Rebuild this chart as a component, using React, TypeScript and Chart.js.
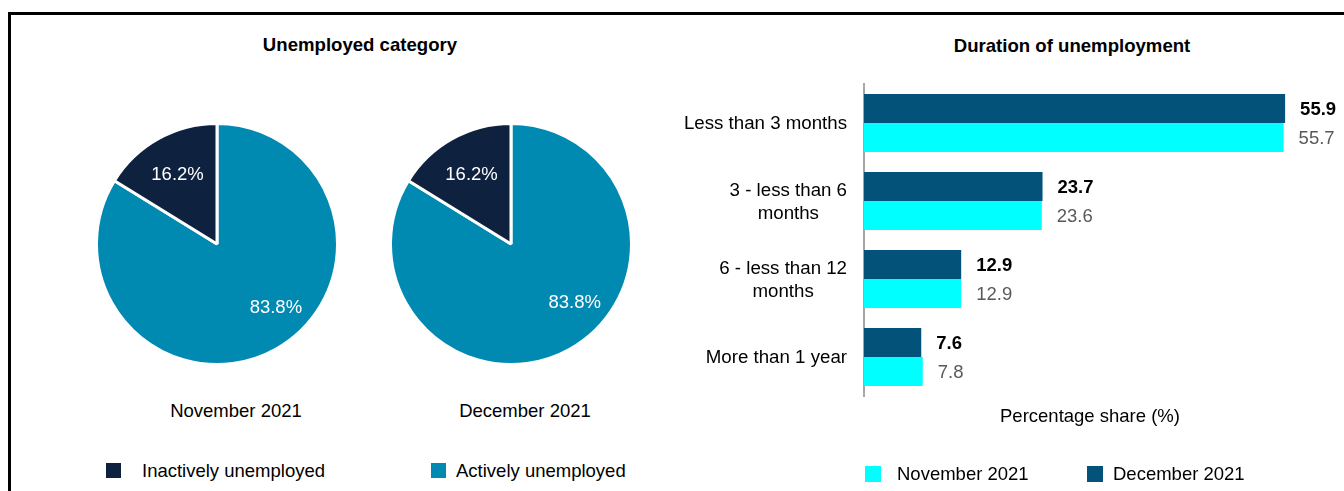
import React, { useEffect, useRef } from "react";
import { Chart, registerables } from "chart.js";

Chart.register(...registerables);

// ---------- Data ----------
const pieCategories = ["Actively unemployed", "Inactively unemployed"];
const novemberShares = [83.8, 16.2];
const decemberShares = [83.8, 16.2];
const pieMonths = ["November 2021", "December 2021"];

const durationCategories = [
  ["Less than 3 months"],
  ["3 - less than 6", "months"],
  ["6 - less than 12", "months"],
  ["More than 1 year"],
];
const decemberDuration = [55.9, 23.7, 12.9, 7.6];
const novemberDuration = [55.7, 23.6, 12.9, 7.8];
const durationSeries = ["December 2021", "November 2021"];

// ---------- Styles ----------
const FONT = "'Liberation Sans', Arial, Helvetica, sans-serif";
const ACTIVE_COLOR = "#0089B1";
const INACTIVE_COLOR = "#0E2240";
const DEC_COLOR = "#02527A";
const NOV_COLOR = "#00FFFF";
const pieColors = [ACTIVE_COLOR, INACTIVE_COLOR];

const pieLabelPlugin = {
  id: "pieLabels",
  afterDatasetsDraw(chart: any, _args: any, opts: any) {
    const meta = chart.getDatasetMeta(0);
    const values = chart.data.datasets[0].data as number[];
    const angleFrac = opts.angleFrac || [0.455, 0.49];
    const radiusFrac = opts.radiusFrac || [0.71, 0.66];
    const ctx = chart.ctx;
    ctx.save();
    ctx.font = `18.5px ${FONT}`;
    ctx.fillStyle = "#ffffff";
    ctx.textAlign = "center";
    ctx.textBaseline = "middle";
    meta.data.forEach((arc: any, i: number) => {
      const p = arc.getProps(["x", "y", "startAngle", "endAngle", "outerRadius"], true);
      const a = p.startAngle + (p.endAngle - p.startAngle) * angleFrac[i];
      const r = p.outerRadius * radiusFrac[i];
      ctx.fillText(values[i].toFixed(1) + "%", p.x + r * Math.cos(a), p.y + r * Math.sin(a));
    });
    ctx.restore();
  },
};

const barValuePlugin = {
  id: "barValues",
  afterDatasetsDraw(chart: any) {
    const ctx = chart.ctx;
    ctx.save();
    ctx.textAlign = "left";
    ctx.textBaseline = "middle";
    chart.data.datasets.forEach((ds: any, di: number) => {
      const meta = chart.getDatasetMeta(di);
      ctx.font = di === 0 ? `bold 18.5px ${FONT}` : `18.5px ${FONT}`;
      ctx.fillStyle = di === 0 ? "#000000" : "#595959";
      meta.data.forEach((bar: any, i: number) => {
        ctx.fillText((ds.data[i] as number).toFixed(1), bar.x + 15, bar.y + 1);
      });
    });
    ctx.restore();
  },
};

const categoryLabelPlugin = {
  id: "categoryLabels",
  afterDraw(chart: any) {
    const ctx = chart.ctx;
    const yScale = chart.scales.y;
    const rightEdge = chart.chartArea.left - 17;
    const lineH = 23;
    ctx.save();
    ctx.font = `18.7px ${FONT}`;
    ctx.fillStyle = "#000000";
    ctx.textAlign = "center";
    ctx.textBaseline = "middle";
    (chart.data.labels as string[][]).forEach((lines, i) => {
      const widest = Math.max(...lines.map((l) => ctx.measureText(l).width));
      const cx = rightEdge - widest / 2;
      const cy = yScale.getPixelForValue(i);
      const y0 = cy - ((lines.length - 1) * lineH) / 2;
      lines.forEach((l, k) => ctx.fillText(l, cx, y0 + k * lineH + 1));
    });
    ctx.restore();
  },
};

function PieChart({
  values,
  left,
  top,
  angleFrac,
}: {
  values: number[];
  left: number;
  top: number;
  angleFrac: number[];
}) {
  const ref = useRef<HTMLCanvasElement>(null);
  useEffect(() => {
    const chart = new Chart(ref.current as HTMLCanvasElement, {
      type: "pie",
      data: {
        labels: pieCategories,
        datasets: [
          {
            data: values,
            backgroundColor: pieColors,
            borderColor: "#ffffff",
            borderWidth: 3,
          },
        ],
      },
      options: {
        responsive: false,
        animation: false,
        layout: { padding: 0 },
        plugins: {
          legend: { display: false },
          tooltip: { enabled: false },
          pieLabels: { angleFrac, radiusFrac: [0.72, 0.66] },
        },
      },
      plugins: [pieLabelPlugin],
    } as any);
    return () => chart.destroy();
  }, []);
  return (
    <canvas
      ref={ref}
      width={244}
      height={244}
      style={{ position: "absolute", left, top, width: 244, height: 244 }}
    />
  );
}

function BarChart() {
  const ref = useRef<HTMLCanvasElement>(null);
  useEffect(() => {
    const chart = new Chart(ref.current as HTMLCanvasElement, {
      type: "bar",
      data: {
        labels: durationCategories,
        datasets: [
          {
            label: durationSeries[0],
            data: decemberDuration,
            backgroundColor: DEC_COLOR,
            categoryPercentage: 0.744,
            barPercentage: 1,
          },
          {
            label: durationSeries[1],
            data: novemberDuration,
            backgroundColor: NOV_COLOR,
            categoryPercentage: 0.744,
            barPercentage: 1,
          },
        ],
      },
      options: {
        indexAxis: "y",
        responsive: false,
        animation: false,
        layout: { padding: { top: 14, right: 28, left: 0, bottom: 0 } },
        plugins: { legend: { display: false }, tooltip: { enabled: false } },
        scales: {
          y: {
            grid: { display: false },
            border: { display: true, color: "#A6A6A6", width: 2 },
            ticks: { display: false },
            afterFit: (s: any) => {
              s.width = 224;
            },
          },
          x: {
            min: 0,
            max: 60,
            grid: { display: false },
            border: { display: false },
            ticks: { display: false },
            title: {
              display: true,
              text: "Percentage share (%)",
              color: "#000000",
              font: { family: FONT, size: 18.5 },
              padding: { top: 0, bottom: 63 },
            },
            afterFit: (s: any) => {
              s.height = 95;
            },
          },
        },
      },
      plugins: [barValuePlugin, categoryLabelPlugin],
    } as any);
    return () => chart.destroy();
  }, []);
  return (
    <canvas
      ref={ref}
      width={704}
      height={421}
      style={{ position: "absolute", left: 640, top: 70, width: 704, height: 421 }}
    />
  );
}

function Label({
  text,
  x,
  capY,
  size = 18.5,
  bold = false,
  align = "center",
}: {
  text: string;
  x: number;
  capY: number;
  size?: number;
  bold?: boolean;
  align?: "center" | "left";
}) {
  return (
    <div
      style={{
        position: "absolute",
        left: x,
        top: capY - 0.49 * size,
        fontFamily: FONT,
        fontSize: size,
        fontWeight: bold ? "bold" : "normal",
        lineHeight: 1,
        whiteSpace: "nowrap",
        color: "#000",
        transform: align === "center" ? "translateX(-50%)" : undefined,
      }}
    >
      {text}
    </div>
  );
}

function Swatch({ x, y, size, color }: { x: number; y: number; size: number; color: string }) {
  return (
    <div style={{ position: "absolute", left: x, top: y, width: size, height: size, background: color }} />
  );
}

export default function App() {
  return (
    <div
      style={{
        position: "fixed",
        left: 0,
        top: 0,
        width: 1344,
        height: 491,
        overflow: "hidden",
        background: "#ffffff",
      }}
    >
      <div
        style={{
          position: "absolute",
          left: 8,
          top: 12,
          width: 1500,
          height: 600,
          borderTop: "3px solid #000",
          borderLeft: "3px solid #000",
        }}
      />
      <Label text="Unemployed category" x={360} capY={45} size={18.6} bold />
      <Label text="Duration of unemployment" x={1072} capY={46} size={18.6} bold />

      <PieChart values={novemberShares} left={95} top={122} angleFrac={[0.455, 0.49]} />
      <PieChart values={decemberShares} left={389} top={122} angleFrac={[0.44, 0.49]} />
      <Label text={pieMonths[0]} x={236} capY={411} />
      <Label text={pieMonths[1]} x={525} capY={411} />

      <Swatch x={106} y={463} size={15} color={INACTIVE_COLOR} />
      <Label text={pieCategories[1]} x={142} capY={471} align="left" />
      <Swatch x={431} y={463} size={15} color={ACTIVE_COLOR} />
      <Label text={pieCategories[0]} x={456} capY={471} align="left" />

      <BarChart />

      <Swatch x={865} y={466} size={16} color={NOV_COLOR} />
      <Label text={durationSeries[1]} x={897} capY={474} align="left" />
      <Swatch x={1087} y={466} size={16} color={DEC_COLOR} />
      <Label text={durationSeries[0]} x={1113} capY={474} align="left" />
    </div>
  );
}
